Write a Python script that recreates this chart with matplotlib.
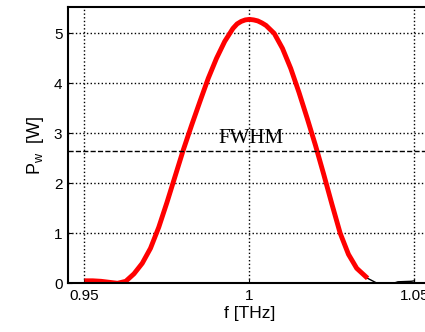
import matplotlib
matplotlib.use('Agg')
from matplotlib import pyplot as plt

# spectrum
freq = [0.9500, 0.9525, 0.9550, 0.9575, 0.9600, 0.9625, 0.9650, 0.9675,
        0.9700, 0.9725, 0.9750, 0.9775, 0.9800, 0.9825, 0.9850, 0.9875,
        0.9900, 0.9925, 0.9950, 0.99625, 0.9975, 0.99875, 1.0000, 1.00125,
        1.0025, 1.00375, 1.0050, 1.0075, 1.0100, 1.0125, 1.0150, 1.0175,
        1.0200, 1.0225, 1.0250, 1.0275, 1.0300, 1.0325, 1.0358]
power = [0.05, 0.05, 0.04, 0.02, 0.00, 0.04, 0.19, 0.40,
         0.70, 1.12, 1.62, 2.15, 2.68, 3.17, 3.64, 4.10,
         4.50, 4.84, 5.10, 5.19, 5.24, 5.27, 5.28, 5.27,
         5.25, 5.21, 5.16, 5.00, 4.70, 4.30, 3.82, 3.30,
         2.76, 2.18, 1.58, 1.00, 0.58, 0.30, 0.10]

# thin black tail after the red curve
tail_f = [1.0358, 1.0387, 1.0436, 1.0450, 1.0490, 1.0500]
tail_p = [0.10, 0.00, 0.00, 0.03, 0.04, 0.05]

fwhm_level = 2.65
xticks = [0.95, 1.0, 1.05]
xticklabels = ['0.95', '1', '1.05']
yticks = [0, 1, 2, 3, 4, 5]

plt.rcParams['font.family'] = ['Liberation Sans', 'DejaVu Sans']
plt.rcParams['mathtext.fontset'] = 'custom'
plt.rcParams['mathtext.rm'] = 'Liberation Sans'
plt.rcParams['mathtext.it'] = 'Liberation Sans'

fig = plt.figure(figsize=(4.25, 3.32), dpi=100)
ax = fig.add_axes([0.16, 0.1467, 0.854, 0.831])

ax.plot(tail_f, tail_p, color='black', lw=1)
ax.plot(freq, power, color='red', lw=3.5, solid_capstyle='butt',
        solid_joinstyle='round')
ax.axhline(fwhm_level, color='black', ls='--', lw=1)
ax.text(0.9906, fwhm_level + 0.06, 'FWHM', family='Liberation Serif',
        fontsize=15, va='bottom', ha='left')

ax.set_xlim(0.945, 1.055)
ax.set_ylim(0, 5.52)
ax.set_xticks(xticks)
ax.set_xticklabels(xticklabels)
ax.set_yticks(yticks)
ax.grid(True, color='black', ls=':', lw=1)
ax.tick_params(direction='in', length=3, labelsize=11, pad=4)

for s in ax.spines.values():
    s.set_linewidth(1.5)

ax.set_xlabel('f [THz]', fontsize=12.5, labelpad=2)
ax.set_ylabel(r'P$_{\rm w}$  [W]', fontsize=13, labelpad=6)

fig.savefig('out.png', dpi=100)
